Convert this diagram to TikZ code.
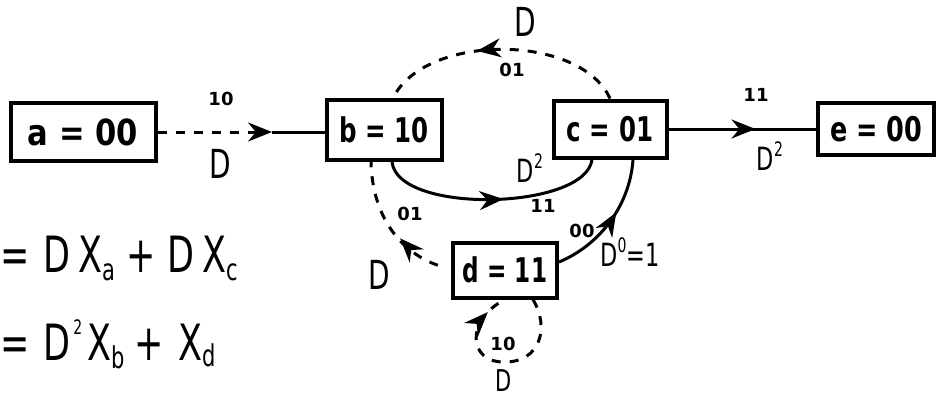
\documentclass[tikz,border=0pt]{standalone}
\usepackage{fontspec}
\setmainfont{DejaVu Sans}
\usetikzlibrary{arrows.meta,decorations.markings}
\newcommand{\hn}[2][0.75]{\scalebox{#1}[1]{#2}}
\newcommand{\eqsub}[2][-8pt]{\raisebox{#1}{\fontsize{30}{30}\selectfont #2}}
\newcommand{\eqsup}[2][26pt]{\raisebox{#1}{\fontsize{20}{20}\selectfont #2}}
\begin{document}
\begin{tikzpicture}[x=1pt,y=-1pt,
  box/.style={draw, line width=4pt, inner sep=0pt, font=\bfseries\fontsize{34}{34}\selectfont},
  bigD/.style={inner sep=0pt, font=\fontsize{40}{40}\selectfont},
  midD/.style={inner sep=0pt, font=\fontsize{32}{32}\selectfont},
  small/.style={inner sep=0pt, font=\bfseries\fontsize{18}{18}\selectfont},
  edge/.style={line width=3pt},
  dsh/.style={line width=3pt, dash pattern=on 9pt off 9pt},
  tip/.style={-{Stealth[length=24pt,width=19pt]}},
  midarr/.style={postaction={decorate}, decoration={markings, mark=at position #1 with {\arrow{Stealth[length=24pt,width=19pt]}}}},
  midrev/.style={postaction={decorate}, decoration={markings, mark=at position #1 with {\arrowreversed{Stealth[length=24pt,width=19pt]}}}},
  eq/.style={inner sep=0pt, anchor=base west, font=\fontsize{50}{50}\selectfont}
]
\useasboundingbox (0,0) rectangle (939,402);
\fill[white] (0,0) rectangle (939,402);

% state boxes
\node[box, minimum width=145pt, minimum height=58pt, font=\bfseries\fontsize{36}{36}\selectfont] (a) at (83,132) {\hn[0.85]{a = 00}};
\node[box, minimum width=115pt, minimum height=60pt] (b) at (384,130) {\hn[0.72]{b = 10}};
\node[box, minimum width=113pt, minimum height=57pt] (c) at (610,129) {\hn[0.72]{c = 01}};
\node[box, minimum width=116pt, minimum height=52pt] (e) at (876,129) {\hn[0.75]{e = 00}};
\node[box, minimum width=104pt, minimum height=55pt] (d) at (505,270) {\hn[0.68]{d = 11}};

% a -> b
\coordinate (ab) at (272,132);
\draw[dsh, tip] (a) -- (ab);
\draw[edge] (ab) -- (ab -| b.west);
\node[small] (l1) at (221,99) {10};
\node[bigD] (l2) at (220,164) {\hn[0.7]{D}};

% b <- c (top dashed arc)
\draw[dsh, midarr=0.6] (c.north) .. controls (580,33) and (425,33) .. ([xshift=9pt]b.north);
\node[bigD] (l3) at (525,22) {\hn[0.7]{D}};
\node[small] (l4) at (512,70) {01};

% b -> c (bottom solid arc)
\draw[edge, midarr=0.55] ([xshift=8pt]b.south) .. controls (398,215) and (586,210) .. ([xshift=-18pt]c.south);
\node[midD] (l5) at (530,168) {\hn[0.7]{D\eqsup[14pt]{2}}};
\node[small] (l6) at (543,206) {11};

% c -> e
\draw[edge, midarr=0.59] (c) -- (e);
\node[small] (l7) at (756,95) {11};
\node[midD] (l8) at (770,156) {\hn[0.7]{D\eqsup[14pt]{2}}};

% d -> c
\draw[edge, midrev=0.42] ([xshift=23pt]c.south) .. controls (630,205) and (600,245) .. ([yshift=8pt]d.east);
\node[small] (l9) at (582,231) {00};
\node[midD] (l10) at (630,252) {\hn[0.7]{D\eqsup[14pt]{0}=1}};

% d -> b (dashed)
\draw[dsh, midarr=0.42, shorten <=14pt] (d.west) .. controls (395,250) and (372,210) .. ([xshift=-13pt]b.south);
\node[small] (l11) at (410,214) {01};
\node[bigD] (l12) at (379,275) {\hn[0.7]{D}};

% d self loop (dashed)
\draw[dsh, midarr=0.88] ([xshift=28pt]d.south) .. controls (550,328) and (540,362) .. (505,362) .. controls (468,363) and (465,320) .. (d.south);
\node[small] (l13) at (503,344) {10};
\node[midD, font=\fontsize{30}{30}\selectfont] (l14) at (504,381) {\hn[0.7]{D}};

% equations
\node[eq] (eq1) at (0,272) {\hn[0.7]{=\hspace{20pt}D\hspace{12pt}X\eqsub{a}\hspace{16pt}+\hspace{16pt}D\hspace{12pt}X\eqsub{c}}};
\node[eq] (eq2) at (0,360) {\hn[0.7]{=\hspace{20pt}D\hspace{4pt}\eqsup{2}\hspace{8pt}X\eqsub{b}\hspace{14pt}+\hspace{20pt}X\eqsub[-6pt]{d}}};
\end{tikzpicture}
\end{document}
